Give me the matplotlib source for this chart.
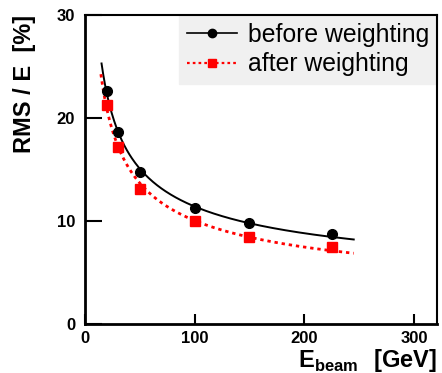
import matplotlib
matplotlib.use("Agg")
import matplotlib.pyplot as plt
import numpy as np

plt.rcParams['font.family'] = ['Liberation Sans', 'DejaVu Sans']
plt.rcParams['mathtext.fontset'] = 'custom'
plt.rcParams['mathtext.rm'] = 'Liberation Sans'
plt.rcParams['mathtext.bf'] = 'Liberation Sans:bold'

# beam energies [GeV] and RMS/E [%]
e_beam = [20, 30, 50, 100, 150, 225]
rms_before = [22.65, 18.6, 14.76, 11.3, 9.84, 8.71]
rms_after = [21.3, 17.15, 13.1, 10.03, 8.42, 7.5]

# range covered by the fitted curves
fit_before_range = (15.2, 245)
fit_after_range = (14.6, 245)


def resolution_fit(e, rms, e_range):
    # fit RMS/E = a/sqrt(E) + b
    u = 1.0 / np.sqrt(np.asarray(e, float))
    p = np.polyfit(u, np.asarray(rms, float), 1)
    xs = np.linspace(e_range[0], e_range[1], 300)
    return xs, np.polyval(p, 1.0 / np.sqrt(xs))


fig = plt.figure(figsize=(4.42, 3.73), dpi=100)
ax = fig.add_axes([0.192, 0.131, 0.797, 0.829])

xb, yb = resolution_fit(e_beam, rms_before, fit_before_range)
xa, ya = resolution_fit(e_beam, rms_after, fit_after_range)

ax.plot(xb, yb, color='black', lw=1.4, zorder=3)
ax.plot(xa, ya, color='red', lw=2.0, ls=(0, (1.2, 1.4)), zorder=3)
ax.plot(e_beam, rms_before, 'o', color='black', ms=7, zorder=4)
ax.plot(e_beam, rms_after, 's', color='red', ms=7.5, zorder=4)

# legend proxies
ax.plot([], [], '-o', color='black', lw=1.2, ms=6, label='before weighting')
ax.plot([], [], 's', color='red', ls=(0, (1.2, 1.4)), lw=1.6, ms=6, label='after weighting')
handles, labels = ax.get_legend_handles_labels()
leg = ax.legend(handles, labels, loc='upper right', bbox_to_anchor=(1.0, 1.0),
                fontsize=17.8, frameon=True, fancybox=False, borderaxespad=0,
                handlelength=2.0, handletextpad=0.45, labelspacing=0.22,
                borderpad=0.32)
leg.get_frame().set_facecolor('#f0f0f0')
leg.get_frame().set_edgecolor('#f0f0f0')
leg.get_frame().set_alpha(1)
leg.set_zorder(5)

ax.set_xlim(0, 321)
ax.set_ylim(0, 30)
ax.set_xticks([0, 100, 200, 300])
ax.set_yticks([0, 10, 20, 30])
ax.tick_params(axis='y', direction='in', length=12, width=1.5, pad=7, labelsize=12)
ax.tick_params(axis='x', direction='in', length=7, width=1.5, pad=5, labelsize=12)
for lab in ax.get_xticklabels() + ax.get_yticklabels():
    lab.set_fontweight('bold')

for side in ['left', 'bottom']:
    ax.spines[side].set_linewidth(2)
ax.spines['top'].set_linewidth(1.5)
ax.spines['right'].set_linewidth(1.5)
for sp in ax.spines.values():
    sp.set_zorder(6)

ax.set_ylabel('RMS / E  [%]', fontsize=17, fontweight='bold', loc='top', labelpad=15)
ax.set_xlabel(r'$\mathbf{E}_{\mathbf{beam}}\ \ \mathbf{[GeV]}$', fontsize=17, loc='right', labelpad=1)

fig.savefig('out.png', dpi=100)
